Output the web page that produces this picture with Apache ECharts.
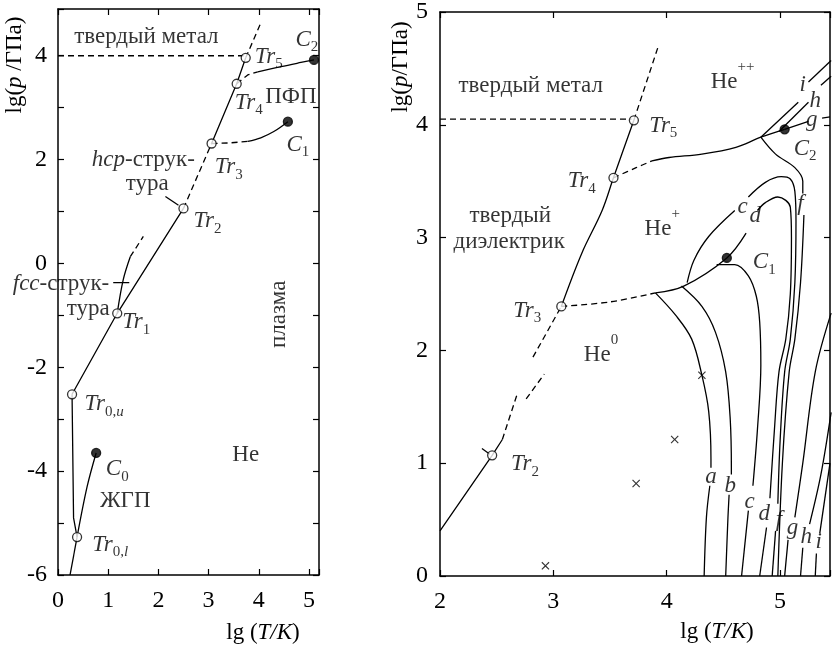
<!DOCTYPE html>
<html><head><meta charset="utf-8">
<script src="https://cdn.jsdelivr.net/npm/echarts@6/dist/echarts.min.js"></script>
<style>html,body{margin:0;padding:0;background:#fff}#c{width:833px;height:647px}</style>
</head><body><div id="c"></div>
<script>
// ---------- DATA (x = lg T, y = lg p) ----------
// Left panel
const L_meltLow   = [[0.24,-6],[0.38,-5.27]];
const L_tr0       = [[0.38,-5.27],[0.31,-4.9],[0.28,-2.52]];
const L_solidLow  = [[0.28,-2.52],[1.18,-0.96],[2.5,1.06]];
const L_hcpDash   = [[2.5,1.06],[3.06,2.31]];
const L_solidHigh = [[3.06,2.31],[3.56,3.46],[3.74,3.96]];
const L_topDash   = [[3.74,3.96],[4.04,4.63]];
const L_metalDash = [[0,4.0],[3.7,4.0]];
const L_c1Dash    = [[3.06,2.31],[3.4,2.32],[3.78,2.35]];
const L_c1Solid   = [[3.78,2.35],[4.04,2.42],[4.3,2.54],[4.58,2.73]];
const L_c2Dash    = [[3.56,3.46],[3.78,3.63],[3.98,3.69]];
const L_c2Solid   = [[3.98,3.69],[4.44,3.79],[4.84,3.87],[5.1,3.92]];
const L_c0        = [[0.38,-5.27],[0.58,-4.3],[0.76,-3.65]];
const L_fccSolid  = [[1.18,-0.96],[1.3,-0.31],[1.44,0.13]];
const L_fccDash   = [[1.44,0.13],[1.7,0.52]];
const L_fccLeader = [[1.1,-0.37],[1.42,-0.37]];
const L_hcpLeader = [[2.14,1.29],[2.4,1.12]];
const L_open   = [[0.38,-5.27],[0.28,-2.52],[1.18,-0.96],[2.5,1.06],[3.06,2.31],[3.56,3.46],[3.74,3.96]];
const L_filled = [[0.76,-3.65],[4.58,2.73],[5.1,3.92]];
const L_labels = [
  [1.76,4.37,'{n|твердый метал}'],
  [4.2,3.98,'{i|Tr}{s|5}'],
  [4.96,4.31,'{i|C}{s|2}'],
  [3.8,3.1,'{i|Tr}{s|4}'],
  [4.64,3.21,'{n|ПФП}'],
  [4.78,2.29,'{i|C}{s|1}'],
  [3.4,1.85,'{i|Tr}{s|3}'],
  [1.7,2.0,'{i|hcp}{n|-струк-}'],
  [1.78,1.54,'{n|тура}'],
  [2.98,0.81,'{i|Tr}{s|2}'],
  [0.06,-0.4,'{i|fcc}{n|-струк-}'],
  [0.6,-0.88,'{n|тура}'],
  [1.56,-1.13,'{i|Tr}{s|1}'],
  [0.92,-2.71,'{i|Tr}{s|0,}{si|u}'],
  [1.18,-3.96,'{i|C}{s|0}'],
  [1.34,-4.58,'{n|ЖГП}'],
  [1.04,-5.42,'{i|Tr}{s|0,}{si|l}'],
  [3.74,-3.69,'{n|He}'],
  [4.4,-0.98,'{n|плазма}',90]
];
// Right panel
const R_meltSolid = [[2,0.40],[2.46,1.07],[2.55,1.21]];
const R_meltDashA = [[2.55,1.21],[2.68,1.61]];
const R_meltDashB = [[2.76,1.57],[2.92,1.79]];
const R_meltDashC = [[2.82,1.94],[3.07,2.39]];
const R_tr2Tick   = [[2.37,1.13],[2.44,1.08]];
const R_meltHigh  = [[3.07,2.39],[3.25,2.86],[3.43,3.24],[3.53,3.53],[3.71,4.04]];
const R_topDash   = [[3.71,4.04],[3.92,4.68]];
const R_metalDash = [[2,4.05],[3.69,4.05]];
const R_ionDash   = [[3.53,3.53],[3.73,3.62],[3.87,3.68]];
const R_ionSolid  = [[3.87,3.68],[4.02,3.71],[4.31,3.74],[4.61,3.80],[4.83,3.89],[5.04,3.96]];
const R_g    = [[5.04,3.96],[5.25,4.03]];
const R_gT   = [[5.37,4.06],[5.44,4.07]];
const R_i    = [[4.83,3.89],[5.16,4.2]];
const R_iT   = [[5.25,4.38],[5.45,4.57]];
const R_h    = [[4.99,3.94],[5.25,4.2]];
const R_hT   = [[5.36,4.35],[5.45,4.43]];
const R_fTop = [[4.83,3.89],[4.96,3.74],[5.13,3.62],[5.2,3.50],[5.2,3.39]];
const R_fLow = [[5.21,3.2],[5.18,2.6],[5.13,2.1],[5.08,1.81],[5.02,1.0],[4.98,0]];
const R_neutDash  = [[3.07,2.39],[3.5,2.43],[3.9,2.51]];
const R_neutSolid = [[3.9,2.51],[4.15,2.57],[4.53,2.82],[4.70,3.04]];
const R_a    = [[3.9,2.51],[4.08,2.31],[4.22,2.10],[4.31,1.78],[4.37,1.46],[4.39,1.04],[4.39,0.96]];
const R_aLow = [[4.38,0.8],[4.35,0.52],[4.33,0]];
const R_b    = [[4.13,2.57],[4.31,2.39],[4.43,2.16],[4.52,1.81],[4.56,1.39],[4.57,0.96],[4.57,0.9]];
const R_bLow = [[4.55,0.72],[4.54,0.52],[4.52,0]];
const R_dome = [[4.44,2.76],[4.6,2.76],[4.72,2.66],[4.79,2.48],[4.82,2.25],[4.83,1.87],[4.80,1.3],[4.76,0.8]];
const R_domeLow = [[4.72,0.58],[4.66,0]];
const R_outer  = [[4.18,2.60],[4.24,2.80],[4.37,3.01],[4.6,3.24]];
const R_outer2 = [[4.72,3.36],[4.87,3.49],[5.01,3.54],[5.09,3.52],[5.13,3.41],[5.14,3.15],[5.13,2.6],[5.09,2.1],[5.04,1.81],[5.0,1.2],[4.98,0.64]];
const R_outerLow = [[4.96,0.40],[4.93,0]];
const R_inner2 = [[4.80,3.24],[4.87,3.31],[4.98,3.36],[5.05,3.33],[5.09,3.27],[5.10,3.0],[5.09,2.5],[5.05,2.1],[4.99,1.81],[4.95,1.3],[4.91,0.69]];
const R_innerLow = [[4.88,0.43],[4.82,0]];
const R_gLine = [[5.45,2.33],[5.31,1.81],[5.2,1.0],[5.13,0.52]];
const R_gLow  = [[5.07,0.32],[5.04,0]];
const R_hLine = [[5.45,1.45],[5.36,0.9],[5.26,0.46]];
const R_hLow  = [[5.2,0.25],[5.18,0]];
const R_iLine = [[5.44,1.0],[5.35,0.38]];
const R_iLow  = [[5.32,0.2],[5.31,0]];
const R_cross  = [[4.31,1.78],[4.07,1.21],[3.73,0.82],[2.93,0.09]];
const R_open   = [[2.46,1.07],[3.07,2.39],[3.53,3.53],[3.71,4.04]];
const R_filled = [[4.53,2.82],[5.04,3.96]];
const R_labels = [
  [2.8,4.34,'{n|твердый метал}'],
  [4.58,4.38,'{N|He}{p|++}'],
  [3.97,3.99,'{i|Tr}{s|5}'],
  [3.25,3.5,'{i|Tr}{s|4}'],
  [2.62,3.19,'{n|твердый}'],
  [2.61,2.96,'{n|диэлектрик}'],
  [3.96,3.08,'{N|He}{p|+}'],
  [2.77,2.35,'{i|Tr}{s|3}'],
  [4.67,3.27,'{i|c}'],
  [4.78,3.19,'{i|d}'],
  [4.86,2.78,'{i|C}{s|1}'],
  [5.2,4.35,'{i|i}'],
  [5.31,4.21,'{i|h}'],
  [5.28,4.04,'{i|g}'],
  [5.22,3.79,'{i|C}{s|2}'],
  [5.18,3.3,'{i|f}'],
  [3.42,1.96,'{N|He}{p|0}'],
  [2.75,0.99,'{i|Tr}{s|2}'],
  [4.39,0.88,'{i|a}'],[4.56,0.8,'{i|b}'],[4.73,0.66,'{i|c}'],[4.86,0.55,'{i|d}'],
  [4.99,0.5,'{i|f}'],[5.11,0.43,'{i|g}'],[5.23,0.35,'{i|h}'],[5.34,0.3,'{i|i}']
];

// ---------- RENDER ----------
const FONT = '"Liberation Serif","DejaVu Serif",serif';
const FS = 23;
const rich = {
  n:{fontFamily:FONT,fontSize:FS,color:'#000',lineHeight:30},
  N:{fontFamily:FONT,fontSize:FS,color:'#000',lineHeight:44},
  i:{fontFamily:FONT,fontSize:FS,fontStyle:'italic',color:'#000',lineHeight:30},
  s:{fontFamily:FONT,fontSize:15,color:'#000',lineHeight:15,verticalAlign:'bottom'},
  si:{fontFamily:FONT,fontSize:15,fontStyle:'italic',color:'#000',lineHeight:15,verticalAlign:'bottom'},
  p:{fontFamily:FONT,fontSize:15,color:'#000',lineHeight:15,verticalAlign:'top'}
};
function seg(data, g, dashed, smooth){
  return {type:'line', xAxisIndex:g*2, yAxisIndex:g*2, data:data, symbol:'none', smooth:smooth?0.35:false,
    lineStyle:{color:'#000', width:1.3, type: dashed?[6,4]:'solid'}, silent:true, animation:false, z:3};
}
function pts(data, g, filled, size){
  return {type:'scatter', xAxisIndex:g*2, yAxisIndex:g*2, data:data, symbol:'circle', symbolSize:size||9,
    itemStyle:{color: filled?'#000':'#fff', borderColor:'#000', borderWidth:1.3}, silent:true, animation:false, z:5};
}
function labels(arr, g){
  return {type:'scatter', xAxisIndex:g*2, yAxisIndex:g*2, symbolSize:1, itemStyle:{color:'rgba(0,0,0,0)'},
    silent:true, animation:false, z:6,
    data: arr.map(a=>({value:[a[0],a[1]], t:a[2], label:{rotate:a[3]||0}})),
    label:{show:true, position:'inside', formatter:p=>p.data.t, rich:rich}};
}
function axisBase(grid, pos, min, max, showLbl, fmt, margin){
  return {type:'value', gridIndex:grid, position:pos, min:min, max:max, interval:1,
    axisLine:{show:true, onZero:false, lineStyle:{color:'#000', width:1.5}},
    axisTick:{show:true, inside:true, length:6, lineStyle:{color:'#000', width:1.2}},
    splitLine:{show:false},
    axisLabel:{show:showLbl, color:'#000', fontFamily:FONT, fontSize:24, margin:margin||10, formatter:fmt}};
}
const intFmt = v => Math.abs(v-Math.round(v))<1e-6 ? String(Math.round(v)) : '';
const evenFmt = v => (Math.abs(v-Math.round(v))<1e-6 && Math.round(v)%2===0) ? String(Math.round(v)) : '';

const series = [
  seg(L_meltLow,0,false),seg(L_tr0,0,false),seg(L_solidLow,0,false),seg(L_hcpDash,0,true),
  seg(L_solidHigh,0,false),seg(L_topDash,0,true),seg(L_metalDash,0,true),seg(L_c1Dash,0,true),
  seg(L_c1Solid,0,false,true),seg(L_c2Dash,0,true),seg(L_c2Solid,0,false,true),seg(L_c0,0,false,true),
  seg(L_fccSolid,0,false,true),seg(L_fccDash,0,true),seg(L_fccLeader,0,false),seg(L_hcpLeader,0,false),
  pts(L_open,0,false),pts(L_filled,0,true),labels(L_labels,0),

  seg(R_meltSolid,1,false),seg(R_meltDashA,1,true),seg(R_meltDashB,1,true),seg(R_meltDashC,1,true),
  seg(R_tr2Tick,1,false),seg(R_meltHigh,1,false,true),seg(R_topDash,1,true),seg(R_metalDash,1,true),
  seg(R_ionDash,1,true,true),seg(R_ionSolid,1,false,true),seg(R_g,1,false),seg(R_gT,1,false),
  seg(R_i,1,false),seg(R_iT,1,false),seg(R_h,1,false),seg(R_hT,1,false),
  seg(R_fTop,1,false,true),seg(R_fLow,1,false,true),seg(R_neutDash,1,true,true),seg(R_neutSolid,1,false,true),
  seg(R_a,1,false,true),seg(R_aLow,1,false,true),seg(R_b,1,false,true),seg(R_bLow,1,false,true),
  seg(R_dome,1,false,true),seg(R_domeLow,1,false),seg(R_outer,1,false,true),seg(R_outer2,1,false,true),
  seg(R_outerLow,1,false),seg(R_inner2,1,false,true),seg(R_innerLow,1,false),
  seg(R_gLine,1,false,true),seg(R_gLow,1,false),seg(R_hLine,1,false,true),seg(R_hLow,1,false),
  seg(R_iLine,1,false),seg(R_iLow,1,false),
  {type:'scatter', xAxisIndex:2, yAxisIndex:2, data:R_cross, symbol:'path://M0,1L1,0L5,4L9,0L10,1L6,5L10,9L9,10L5,6L1,10L0,9L4,5Z',
   symbolSize:8, itemStyle:{color:'#000'}, silent:true, animation:false, z:5},
  pts(R_open,1,false),pts(R_filled,1,true),labels(R_labels,1)
];

const chart = echarts.init(document.getElementById('c'), null, {renderer:'canvas'});
chart.setOption({
  backgroundColor:'#fff',
  animation:false,
  grid:[
    {left:58, top:9, width:261, bottom:72, containLabel:false},
    {left:440, top:6, right:1, bottom:71, containLabel:false}
  ],
  xAxis:[
    axisBase(0,'bottom',0,5.2,true,intFmt,14), axisBase(0,'top',0,5.2,false,intFmt),
    axisBase(1,'bottom',2,5.44,true,intFmt,14), axisBase(1,'top',2,5.44,false,intFmt)
  ],
  yAxis:[
    axisBase(0,'left',-6,4.9,true,evenFmt,11), axisBase(0,'right',-6,4.9,false,evenFmt),
    axisBase(1,'left',0,5,true,intFmt,12), axisBase(1,'right',0,5,false,intFmt)
  ],
  series:series,
  graphic:[
    {type:'text', x:15, y:65, rotation:Math.PI/2, style:{text:'{n|lg(}{i|p}{n| /ГПа)}', rich:rich, align:'center', verticalAlign:'middle'}},
    {type:'text', x:401, y:67, rotation:Math.PI/2, style:{text:'{n|lg(}{i|p}{n|/ГПа)}', rich:rich, align:'center', verticalAlign:'middle'}},
    {type:'text', x:263, y:633, style:{text:'{n|lg (}{i|T/K}{n|)}', rich:rich, align:'center', verticalAlign:'middle'}},
    {type:'text', x:717, y:632, style:{text:'{n|lg (}{i|T/K}{n|)}', rich:rich, align:'center', verticalAlign:'middle'}}
  ]
});
</script></body></html>
